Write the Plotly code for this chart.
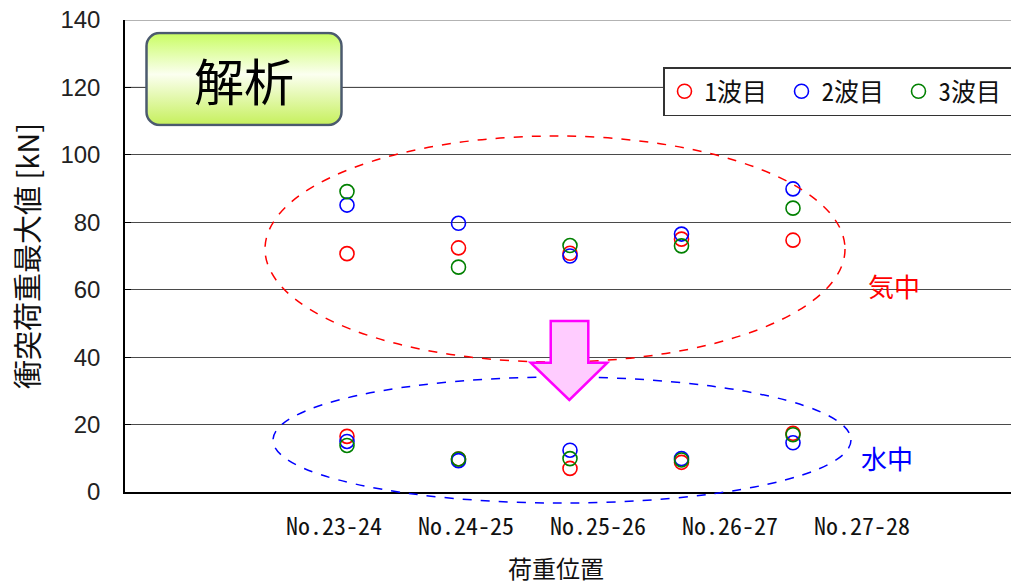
import base64
import plotly.graph_objects as go

# data
categories = ["No.23-24", "No.24-25", "No.25-26", "No.26-27", "No.27-28"]
series_names = ["1波目", "2波目", "3波目"]

air_wave1 = [70.7, 72.4, 70.8, 75.0, 74.7]
air_wave2 = [85.1, 79.7, 70.0, 76.5, 89.9]
air_wave3 = [89.1, 66.7, 73.1, 73.0, 84.2]

water_wave1 = [16.5, 9.8, 7.0, 8.8, 17.4]
water_wave2 = [15.0, 9.3, 12.4, 9.9, 14.6]
water_wave3 = [13.8, 9.8, 9.9, 9.5, 17.0]

y_ticks = [0, 20, 40, 60, 80, 100, 120, 140]

colors = ["#FF0000", "#0000FF", "#008000"]

W, H = 1011, 586
L, T, R, B = 125, 20, 1011, 492   # plot box in pixels


def px(x):
    return (x - L) / (R - L)


def py(y):
    return (B - y) / (B - T)


fig = go.Figure()

xpos = list(range(len(categories)))
step = 111.5                   # pixels between point columns
label_step = 132 / step        # labels were spread wider than the points in the original
tick_pos = [(334 - 347) / step + i * label_step for i in xpos]

for name, col, a, w in zip(series_names, colors,
                           [air_wave1, air_wave2, air_wave3],
                           [water_wave1, water_wave2, water_wave3]):
    fig.add_trace(go.Scatter(
        x=xpos + xpos, y=a + w, mode="markers", name=name,
        marker=dict(symbol="circle-open", size=14, color=col,
                    line=dict(width=1.6, color=col)),
    ))

jp = "Noto Sans CJK JP"
jp_mono = "Noto Sans Mono CJK JP, Noto Sans CJK JP"

# gradient label box as an svg image
svg = '''<svg xmlns="http://www.w3.org/2000/svg" width="198" height="95" viewBox="0 0 198 95">
<defs><linearGradient id="g" x1="0" y1="0" x2="0" y2="1">
<stop offset="0" stop-color="#c9fd62"/><stop offset="0.45" stop-color="#fbfff0"/>
<stop offset="1" stop-color="#c6f05c"/></linearGradient></defs>
<rect x="1.5" y="1.5" width="195" height="92" rx="13" ry="13" fill="url(#g)" stroke="#4b5a6e" stroke-width="2.5"/>
</svg>'''
src = "data:image/svg+xml;base64," + base64.b64encode(svg.encode()).decode()

fig.add_layout_image(dict(
    source=src, xref="paper", yref="paper", x=px(145), y=py(31.5),
    sizex=px(343) - px(145), sizey=py(31.5) - py(126.5),
    xanchor="left", yanchor="top", sizing="stretch", layer="above",
))

shapes = []
# lighter lines at 120 and 140
for v in [120, 140]:
    shapes.append(dict(type="line", xref="paper", yref="y", x0=0, x1=1, y0=v, y1=v,
                       line=dict(color="#9a9a9a", width=1.3), layer="below"))
# dashed ellipses
shapes.append(dict(type="circle", xref="paper", yref="paper",
                   x0=px(265), x1=px(845), y0=py(362), y1=py(136),
                   line=dict(color="#FF0000", width=1.5, dash="dash")))
shapes.append(dict(type="circle", xref="paper", yref="paper",
                   x0=px(273), x1=px(851), y0=py(503), y1=py(377),
                   line=dict(color="#0000FF", width=1.5, dash="dash")))
# down arrow
pts = [(550.7, 321), (588.3, 321), (588.3, 362.7), (607.3, 362.7),
       (569.3, 400), (530.7, 362.7), (550.7, 362.7)]
path = "M " + " L ".join(f"{px(a):.4f},{py(b):.4f}" for a, b in pts) + " Z"
shapes.append(dict(type="path", xref="paper", yref="paper", path=path,
                   fillcolor="#ffccff", line=dict(color="#ff00ff", width=2.5)))


def note(text, x, y, size, color):
    return dict(text=text, xref="paper", yref="paper", x=px(x), y=py(y),
                xanchor="center", yanchor="middle", showarrow=False,
                font=dict(family=jp, size=size, color=color))


fig.update_layout(
    width=W, height=H,
    margin=dict(l=L, r=W - R, t=T, b=H - B, autoexpand=False),
    plot_bgcolor="white", paper_bgcolor="white",
    shapes=shapes,
    showlegend=True,
    legend=dict(orientation="h", x=px(663), y=py(67), xanchor="left", yanchor="top",
                bgcolor="white", bordercolor="#333333", borderwidth=1.5,
                font=dict(family=jp_mono, size=25, color="#111"),
                entrywidth=72, itemwidth=30),
    annotations=[
        note("解析", 244, 79, 50, "#000"),
        note("気中", 894, 285, 26, "#FF0000"),
        note("水中", 887, 457, 26, "#0000FF"),
        note("荷重位置", 556, 567, 24, "#111"),
    ],
)

fig.update_xaxes(
    range=[-(347 - L) / step, (R - 347) / step],
    tickvals=tick_pos, ticktext=categories,
    showgrid=False, zeroline=False,
    showline=True, linecolor="#000", linewidth=1.5,
    ticks="", ticklabelstandoff=12,
    tickfont=dict(family=jp_mono, size=24, color="#111"),
)
fig.update_yaxes(
    range=[0, 140], tickvals=y_ticks,
    showgrid=True, gridcolor="#4a4a4a", gridwidth=1.2,
    zeroline=False,
    showline=True, linecolor="#000", linewidth=1.5,
    ticks="inside", ticklen=6, tickcolor="#000",
    ticklabelstandoff=18, ticklabeloverflow="allow",
    tickfont=dict(family="Liberation Sans", size=24, color="#222"),
    title=dict(text="衝突荷重最大値 [kN]", standoff=12,
               font=dict(family=jp, size=29, color="#111")),
)

# drop the browser's default 8px body margin so the figure sits at the page corner
fig.write_html("out.html", config={"displayModeBar": False},
               post_script="document.body.style.margin='0';")
